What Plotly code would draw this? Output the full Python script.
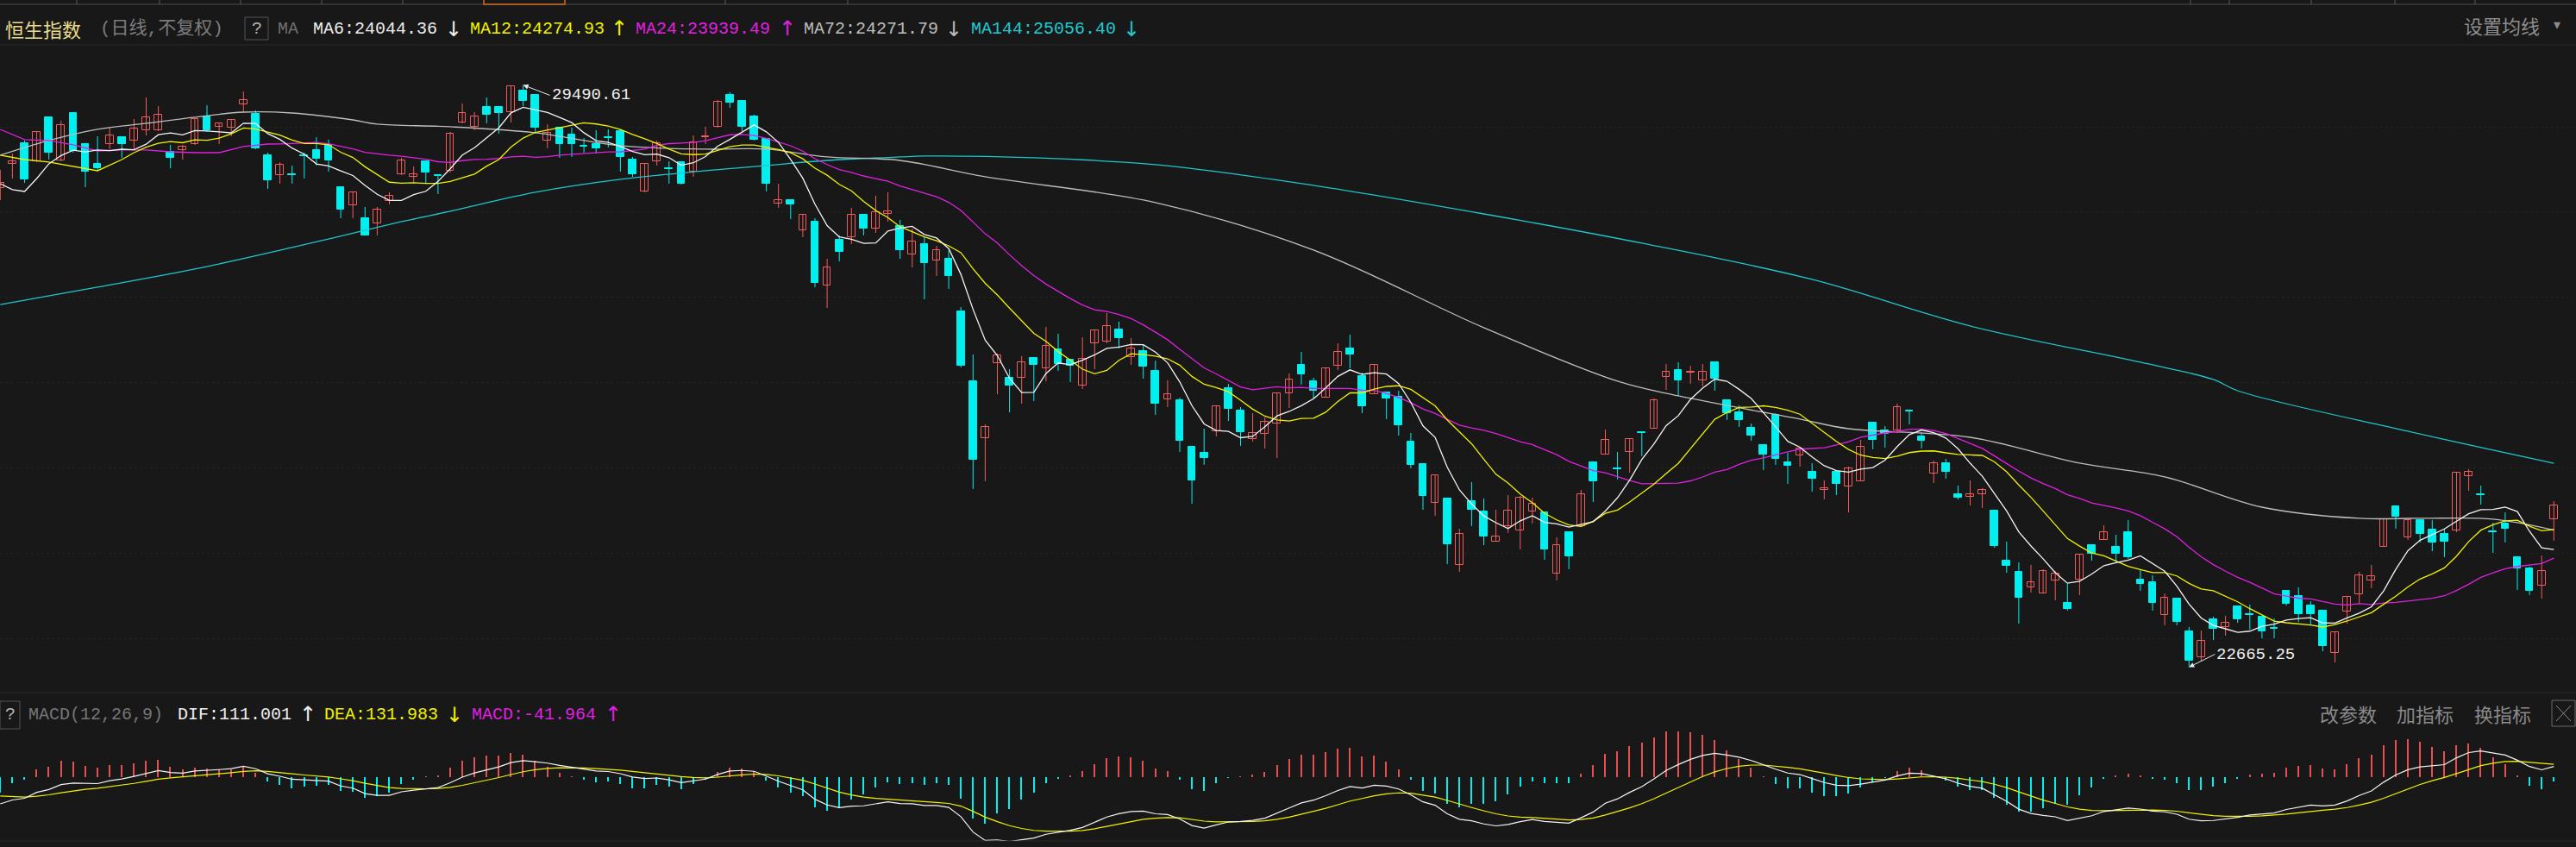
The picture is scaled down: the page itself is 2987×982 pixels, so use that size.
import numpy as np
import pandas as pd
import plotly.graph_objects as go

W, H = 2987, 982
BG = "#181818"
UP = "#f25c5c"
DN = "#00f0f0"

# ---------------- daily OHLC (index points) ----------------
opens = [
    28283, 28566, 28808, 28596, 29112, 28606, 29162, 28798, 28566, 28798,
    28879, 28839, 28960, 28960, 28707, 28728, 28798, 29122, 29001, 28990,
    29263, 29152, 28667, 28434, 28440, 28662, 28728, 28788, 28293, 28080,
    27929, 27868, 28131, 28444, 28414, 28596, 28430, 28485, 29051, 29001,
    29233, 29233, 29172, 29425, 29375, 28839, 28990, 28910, 28773, 28798,
    28874, 28950, 28616, 28242, 28596, 28510, 28586, 28475, 28874, 29001,
    29375, 29304, 29122, 28859, 28101, 28141, 27787, 27888, 27140, 27676,
    27706, 27969, 27807, 27979, 27838, 27504, 27625, 27433, 27453, 26837,
    26017, 25350, 26230, 26058, 26058, 26291, 26169, 26392, 26270, 25967,
    26462, 26483, 26624, 26301, 26371, 26139, 25805, 25795, 25249, 25178,
    25431, 25937, 25674, 25340, 25401, 25522, 25876, 26210, 26017, 25825,
    26200, 26402, 26078, 25866, 25886, 25835, 25310, 25047, 24592, 24642,
    23864, 24612, 24490, 24137, 24319, 24268, 24490, 24480, 23763, 24248,
    24319, 25067, 25158, 24991, 25188, 25421, 25461, 26068, 26149, 26114,
    26028, 26240, 25795, 25653, 25471, 25269, 25623, 25067, 25148, 24956,
    24743, 24956, 24784, 24845, 25532, 25441, 25441, 25669, 25370, 24935,
    25057, 24693, 24663, 24693, 24501, 23914, 23783, 23601, 23530, 23682,
    23419, 23692, 24096, 24157, 24076, 24248, 23692, 23661, 23277, 23469,
    23085, 22782, 23227, 23136, 23378, 23292, 23257, 23130, 23560, 23500,
    23388, 23328, 22832, 23318, 23520, 23682, 24076, 24551, 24187, 24390,
    24278, 24228, 24268, 24905, 24688, 24253, 24349, 23955, 23823, 23621,
    24400,
]
highs = [
    28495, 28687, 28839, 28950, 29112, 29071, 29162, 28798, 28889, 28990,
    28879, 29092, 29344, 29243, 28788, 28788, 29102, 29253, 29051, 29081,
    29415, 29193, 28697, 28586, 28546, 28697, 28879, 28849, 28293, 28242,
    28060, 28060, 28232, 28637, 28535, 28596, 28444, 28940, 29274, 29172,
    29344, 29233, 29476, 29490.61, 29385, 29031, 29001, 28990, 28869, 28960,
    28970, 28970, 28647, 28566, 28839, 28596, 28586, 28899, 29001, 29314,
    29405, 29304, 29142, 28869, 28333, 28141, 27969, 27929, 27453, 27727,
    28050, 27969, 28192, 28232, 27909, 27807, 27706, 27605, 27555, 26887,
    26331, 25512, 26341, 26159, 26311, 26291, 26655, 26574, 26270, 26533,
    26614, 26816, 26715, 26523, 26442, 26260, 26028, 25825, 25249, 25461,
    25724, 25987, 25714, 25643, 25593, 25876, 26109, 26361, 26058, 26169,
    26462, 26564, 26119, 26210, 25886, 25906, 25411, 25047, 24915, 24642,
    24288, 24835, 24642, 24511, 24683, 24673, 24652, 24480, 24187, 24248,
    24743, 25067, 25451, 25188, 25340, 25421, 25815, 26220, 26240, 26200,
    26220, 26240, 25795, 25734, 25522, 25269, 25643, 25178, 25229, 25057,
    24855, 24956, 25016, 25330, 25532, 25492, 25755, 25669, 25421, 25087,
    25107, 24794, 24855, 24764, 24501, 24137, 23894, 23864, 23813, 23793,
    23641, 23995, 24096, 24329, 24218, 24390, 23813, 23742, 23530, 23469,
    23136, 23095, 23257, 23267, 23378, 23398, 23257, 23237, 23560, 23601,
    23439, 23328, 23075, 23490, 23783, 23864, 24400, 24551, 24400, 24390,
    24390, 24288, 24946, 24986, 24794, 24359, 24480, 23955, 23843, 23975,
    24612,
]
lows = [
    28141, 28394, 28343, 28586, 28616, 28596, 28697, 28293, 28485, 28738,
    28637, 28738, 28899, 28950, 28515, 28616, 28788, 28940, 28798, 28889,
    29172, 28738, 28272, 28333, 28333, 28394, 28546, 28475, 27929, 27929,
    27727, 27727, 28091, 28434, 28343, 28333, 28212, 28465, 29041, 28960,
    29041, 28920, 29051, 29243, 28920, 28748, 28637, 28647, 28697, 28687,
    28758, 28475, 28414, 28232, 28546, 28333, 28323, 28414, 28798, 28990,
    29223, 28950, 28839, 28242, 28050, 27919, 27706, 27120, 26877, 27423,
    27625, 27727, 27757, 27888, 27453, 27352, 26978, 27251, 27100, 26179,
    24754, 24845, 25866, 25653, 25755, 25785, 26017, 26139, 26007, 25926,
    26159, 26462, 26402, 26210, 26048, 25623, 25714, 25188, 24582, 25037,
    25370, 25553, 25259, 25310, 25229, 25118, 25704, 25977, 25815, 25825,
    26149, 26169, 25643, 25866, 25573, 25380, 24996, 24511, 24440, 23874,
    23783, 24319, 24096, 24137, 24238, 24046, 24349, 23924, 23682, 23813,
    24319, 24602, 25158, 24865, 24946, 25138, 25461, 25916, 25846, 25987,
    25957, 25906, 25563, 25482, 25320, 24976, 25037, 24814, 25016, 24723,
    24632, 24683, 24480, 24845, 25219, 25239, 25411, 25512, 25229, 24824,
    24875, 24632, 24561, 24531, 24066, 23773, 23176, 23540, 23530, 23449,
    23328, 23510, 23914, 24157, 23894, 23934, 23560, 23328, 23156, 23156,
    22665.25, 22731, 22984, 23034, 23186, 23105, 23004, 23004, 23388, 23196,
    23156, 22852, 22721, 23176, 23409, 23591, 24076, 24288, 24157, 24127,
    24025, 23955, 24248, 24733, 24571, 24005, 24127, 23570, 23510, 23469,
    24147,
]
closes = [
    28343, 28596, 28384, 28940, 28697, 29021, 28717, 28475, 28515, 28899,
    28798, 28980, 29112, 29142, 28637, 28768, 29092, 28960, 29041, 29081,
    29314, 28748, 28374, 28556, 28430, 28652, 28626, 28606, 28030, 28232,
    27727, 28030, 28192, 28606, 28444, 28465, 28420, 28920, 29162, 29122,
    29142, 29162, 29476, 29304, 28990, 28930, 28798, 28798, 28763, 28748,
    28864, 28647, 28444, 28566, 28808, 28500, 28333, 28819, 28884, 29294,
    29284, 29001, 28849, 28333, 28141, 28091, 27969, 27170, 27352, 27534,
    27969, 27807, 27999, 28010, 27555, 27656, 27403, 27555, 27251, 26200,
    25097, 25482, 26321, 25967, 26240, 26210, 26432, 26220, 26200, 26281,
    26614, 26665, 26523, 26402, 26189, 25755, 25866, 25320, 24855, 25118,
    25724, 25694, 25421, 25411, 25542, 25876, 26038, 26098, 25906, 26169,
    26361, 26331, 25724, 26210, 25815, 25502, 25037, 24673, 24915, 24106,
    24228, 24511, 24197, 24197, 24501, 24652, 24582, 24046, 24096, 23965,
    24693, 24845, 25330, 24981, 25340, 25411, 25795, 26129, 26028, 26124,
    26129, 26048, 25643, 25563, 25380, 25158, 25107, 25027, 25229, 24875,
    24764, 24814, 24996, 25249, 25330, 25401, 25714, 25659, 25320, 25057,
    24956, 24652, 24693, 24743, 24086, 23854, 23479, 23661, 23793, 23763,
    23348, 23985, 23995, 24248, 23995, 23955, 23641, 23419, 23479, 23196,
    22741, 22974, 23115, 23186, 23227, 23282, 23085, 23120, 23409, 23287,
    23287, 22913, 23075, 23490, 23742, 23732, 24400, 24430, 24390, 24228,
    24127, 24137, 24946, 24956, 24678, 24243, 24288, 23823, 23560, 23793,
    24561,
]

# moving-average lines read off the chart where the window has no history
ma6_head_idx = [0, 1, 2, 3, 4]
ma6_head_val = [28333, 28263, 28242, 28394, 28566]
ma12_head_idx = [0, 2, 4, 6, 8, 10]
ma12_head_val = [28667, 28616, 28586, 28535, 28485, 28616]
ma24_head_idx = [0, 2, 4, 6, 8, 10, 12, 14, 16, 18, 20, 22]
ma24_head_val = [28970, 28849, 28839, 28788, 28717, 28728, 28728, 28707,
                 28697, 28697, 28768, 28798]

ma72_idx = [0, 4, 8, 12, 16, 20, 24, 29, 31, 37, 44, 51, 58, 63, 68, 74, 81,
            95, 108, 122, 133, 138, 148, 152, 162, 171, 178, 186, 194, 199,
            205, 210]
ma72_val = [28667, 28839, 28970, 29041, 29112, 29172, 29162, 29081, 29031,
            29001, 28930, 28778, 28738, 28738, 28647, 28606, 28414, 28111,
            27555, 26645, 26018, 25846, 25573, 25461, 25360, 25057, 24895,
            24541, 24410, 24410, 24400, 24271.79]

ma144_idx = [0, 8, 16, 24, 33, 37, 44, 51, 58, 63, 68, 74, 76, 85, 95, 108,
             122, 135, 149, 162, 176, 182, 184, 198, 210]
ma144_val = [26917, 27120, 27332, 27585, 27888, 28010, 28232, 28384, 28485,
             28546, 28606, 28647, 28657, 28637, 28556, 28313, 27979, 27636,
             27211, 26665, 26240, 26038, 25906, 25431, 25056.40]

# MACD state at the left edge
dif_start = -277.0
dea_start = -196.0

N = len(closes)
idx = np.arange(N)
o = np.array(opens, float)
h = np.array(highs, float)
l = np.array(lows, float)
c = np.array(closes, float)

# ---------------- derived series ----------------
cs = pd.Series(c)


def ma_line(n, head_idx, head_val):
    m = cs.rolling(n).mean().to_numpy()
    xs = list(head_idx) + list(range(n - 1, N))
    ys = list(head_val) + list(m[n - 1:])
    return xs, ys


def ema(x, n, seed):
    a = 2.0 / (n + 1)
    out = np.empty_like(x)
    prev = seed
    for k, v in enumerate(x):
        if k > 0:
            prev = a * v + (1 - a) * prev
        out[k] = prev
    return out


e12 = ema(c, 12, c[0])
e26 = ema(c, 26, c[0] - dif_start)
dif = e12 - e26
dea = ema(dif, 9, dea_start)
macd = 2 * (dif - dea)

# ---------------- figure ----------------
fig = go.Figure()

up = c >= o
dn = ~up


def wick_xy(mask):
    xs, ys = [], []
    for i in idx[mask]:
        xs += [i, i, None]
        ys += [h[i], l[i], None]
    return xs, ys


for mask, col in ((up, UP), (dn, DN)):
    wx, wy = wick_xy(mask)
    fig.add_trace(go.Scatter(x=wx, y=wy, mode="lines", line=dict(color=col, width=1),
                             hoverinfo="skip", showlegend=False, xaxis="x", yaxis="y"))

body_min = 9.0
ub = np.maximum(c[up] - o[up], body_min)
fig.add_trace(go.Bar(x=idx[up], y=ub, base=o[up], width=0.62,
                     marker=dict(color=BG, line=dict(color=UP, width=1)),
                     showlegend=False, xaxis="x", yaxis="y"))
db = np.maximum(o[dn] - c[dn], body_min)
fig.add_trace(go.Bar(x=idx[dn], y=db, base=c[dn], width=0.62,
                     marker=dict(color=DN, line=dict(color=DN, width=1)),
                     showlegend=False, xaxis="x", yaxis="y"))

# moving averages
fig.add_trace(go.Scatter(x=ma144_idx, y=ma144_val, mode="lines", line_shape="spline",
                         line=dict(color="#1fc6cc", width=1.3), showlegend=False,
                         xaxis="x", yaxis="y"))
fig.add_trace(go.Scatter(x=ma72_idx, y=ma72_val, mode="lines", line_shape="spline",
                         line=dict(color="#bdbdbd", width=1.3), showlegend=False,
                         xaxis="x", yaxis="y"))
for n, hi, hv, col in ((24, ma24_head_idx, ma24_head_val, "#e020e0"),
                       (12, ma12_head_idx, ma12_head_val, "#f2f200"),
                       (6, ma6_head_idx, ma6_head_val, "#f4f4f4")):
    xs, ys = ma_line(n, hi, hv)
    fig.add_trace(go.Scatter(x=xs, y=ys, mode="lines", line=dict(color=col, width=1.3),
                             showlegend=False, xaxis="x", yaxis="y"))

# MACD panel
pos = macd >= 0
fig.add_trace(go.Bar(x=idx[pos], y=macd[pos], width=0.11, marker=dict(color="#e85050", line_width=0),
                     showlegend=False, xaxis="x2", yaxis="y2"))
fig.add_trace(go.Bar(x=idx[~pos], y=macd[~pos], width=0.11, marker=dict(color=DN, line_width=0),
                     showlegend=False, xaxis="x2", yaxis="y2"))
fig.add_trace(go.Scatter(x=idx, y=dea, mode="lines", line=dict(color="#f2f200", width=1.2),
                         showlegend=False, xaxis="x2", yaxis="y2"))
fig.add_trace(go.Scatter(x=idx, y=dif, mode="lines", line=dict(color="#f4f4f4", width=1.2),
                         showlegend=False, xaxis="x2", yaxis="y2"))


# ---------------- layout helpers (pixel positions) ----------------
def fx(px):
    return px / W


def fy(py):
    return 1 - py / H


XR = [-0.3 / 14.1, (W - 0.3) / 14.1]
MAIN_TOP, MAIN_BOT = 52, 800
K_MAIN = 0.098896
P_AT_0 = 3015.0 / K_MAIN
MACD_TOP, MACD_BOT, MACD_ZERO, K_MACD = 805, 975, 901, 0.112

MONO = "Liberation Mono, Noto Sans CJK SC, monospace"
CJK = "Noto Sans CJK SC, sans-serif"

annotations = []


def txt(x, y, s, color, size=20, family=MONO, xanchor="left"):
    annotations.append(dict(x=fx(x), y=fy(y), xref="paper", yref="paper", text=s,
                            showarrow=False, xanchor=xanchor, yanchor="middle",
                            font=dict(color=color, size=size, family=family)))


# main header
HY = 33
txt(4, HY, "恒生指数", "#e8dc8c", 22, CJK)
txt(114, HY, "(日线,不复权)", "#7c7c7c", 21, MONO)
txt(297.5, HY, "?", "#b4b4b4", 20, MONO, "center")
txt(320, HY, "MA", "#707070", 20)
txt(361, HY, "MA6:24044.36", "#ececec", 20)
txt(514, HY + 1, "↓", "#ececec", 24, "DejaVu Sans")
txt(543, HY, "MA12:24274.93", "#f0f000", 20)
txt(706, HY, "↑", "#f0f000", 24, "DejaVu Sans")
txt(735, HY, "MA24:23939.49", "#e020e0", 20)
txt(901, HY, "↑", "#e020e0", 24, "DejaVu Sans")
txt(930, HY, "MA72:24271.79", "#bcbcbc", 20)
txt(1094, HY + 1, "↓", "#bcbcbc", 24, "DejaVu Sans")
txt(1124, HY, "MA144:25056.40", "#20c8d0", 20)
txt(1300, HY + 1, "↓", "#20c8d0", 24, "DejaVu Sans")
txt(2855, 29, "设置均线", "#8e8e8e", 22, CJK)
txt(2959, 28, "▾", "#8e8e8e", 16, "DejaVu Sans")

# MACD header
MY = 828
txt(11.5, MY, "?", "#b4b4b4", 20, MONO, "center")
txt(31, MY, "MACD(12,26,9)", "#767676", 20)
txt(204, MY, "DIF:111.001", "#f0f0f0", 20)
txt(345, MY, "↑", "#f0f0f0", 24, "DejaVu Sans")
txt(374, MY, "DEA:131.983", "#f0f000", 20)
txt(515, MY + 1, "↓", "#f0f000", 24, "DejaVu Sans")
txt(545, MY, "MACD:-41.964", "#e020e0", 20)
txt(699, MY, "↑", "#e020e0", 24, "DejaVu Sans")
txt(2688, 827, "改参数", "#8a8a8a", 22, CJK)
txt(2777, 827, "加指标", "#8a8a8a", 22, CJK)
txt(2867, 827, "换指标", "#8a8a8a", 22, CJK)

# extreme labels
imax = int(np.argmax(h))
imin = int(np.argmin(l))
annotations.append(dict(x=imax, y=h[imax], xref="x", yref="y", text=f"{h[imax]:.2f}",
                        showarrow=True, ax=31, ay=12, xanchor="left", yanchor="middle",
                        arrowcolor="#e8e8e8", arrowwidth=1, arrowhead=2, arrowsize=1.2,
                        font=dict(color="#f0f0f0", size=19, family=MONO)))
annotations.append(dict(x=imin, y=l[imin], xref="x", yref="y", text=f"{l[imin]:.2f}",
                        showarrow=True, ax=30, ay=-15, xanchor="left", yanchor="middle",
                        arrowcolor="#e8e8e8", arrowwidth=1, arrowhead=2, arrowsize=1.2,
                        font=dict(color="#f0f0f0", size=19, family=MONO)))

shapes = []


def hline(y, color, x0=0, x1=W, width=1, dash="solid"):
    shapes.append(dict(type="line", xref="paper", yref="paper", x0=fx(x0), x1=fx(x1),
                       y0=fy(y), y1=fy(y), line=dict(color=color, width=width, dash=dash)))


def vline(x, y0, y1, color, width=1):
    shapes.append(dict(type="line", xref="paper", yref="paper", x0=fx(x), x1=fx(x),
                       y0=fy(y0), y1=fy(y1), line=dict(color=color, width=width)))


def rect(x0, y0, x1, y1, color, width=1):
    shapes.append(dict(type="rect", xref="paper", yref="paper", x0=fx(x0), x1=fx(x1),
                       y0=fy(y1), y1=fy(y0), line=dict(color=color, width=width)))


# top tab strip
hline(5, "#4a4a4a")
for xv in (89, 185, 279, 373, 467, 841, 983, 2540, 2585, 2680, 2777, 2870):
    vline(xv, 0, 5, "#5a5a5a")
rect(561, -2, 655, 5, "#d2691e", 1.5)
hline(52, "#2a2a2a")
hline(803, "#2a2a2a")
hline(975, "#2a2a2a")
rect(284, 20, 311, 46, "#555555")
rect(0, 813, 23, 845, "#555555")
rect(2959, 812, 2986, 842, "#6a6a6a")
shapes.append(dict(type="line", xref="paper", yref="paper", x0=fx(2964), x1=fx(2981),
                   y0=fy(818), y1=fy(836), line=dict(color="#8a8a8a", width=1)))
shapes.append(dict(type="line", xref="paper", yref="paper", x0=fx(2964), x1=fx(2981),
                   y0=fy(836), y1=fy(818), line=dict(color="#8a8a8a", width=1)))

fig.update_layout(
    width=W, height=H, margin=dict(l=0, r=0, t=0, b=0),
    paper_bgcolor=BG, plot_bgcolor=BG, barmode="overlay", bargap=0,
    showlegend=False, hovermode=False,
    annotations=annotations, shapes=shapes,
    xaxis=dict(domain=[0, 1], range=XR, visible=False, fixedrange=True),
    xaxis2=dict(domain=[0, 1], range=XR, visible=False, anchor="y2", matches="x"),
    yaxis=dict(domain=[fy(MAIN_BOT), fy(MAIN_TOP)],
               range=[P_AT_0 - MAIN_BOT / K_MAIN, P_AT_0 - MAIN_TOP / K_MAIN],
               showgrid=True, gridcolor="#222222", griddash="dot", gridwidth=1,
               tick0=0, dtick=1000, showticklabels=False, zeroline=False,
               ticks="", showline=False),
    yaxis2=dict(domain=[fy(MACD_BOT), fy(MACD_TOP)],
                range=[-(MACD_BOT - MACD_ZERO) / K_MACD, (MACD_ZERO - MACD_TOP) / K_MACD],
                showgrid=False, zeroline=False, showticklabels=False, anchor="x2"),
)

fig.write_html("out.html", include_plotlyjs=True, config={"displayModeBar": False},
               post_script="document.body.style.margin='0';document.body.style.overflow='hidden';")
